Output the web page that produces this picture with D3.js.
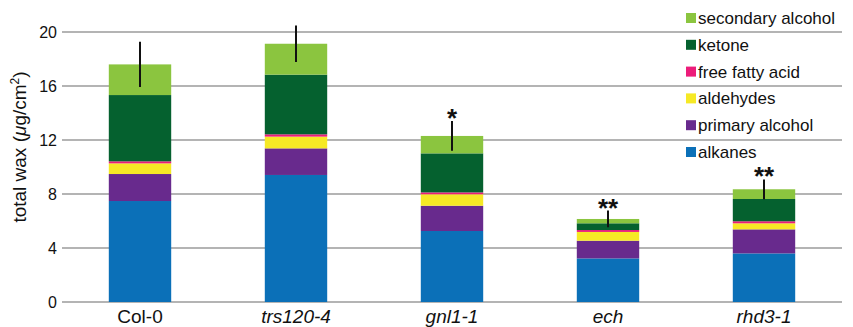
<!DOCTYPE html>
<html>
<head>
<meta charset="utf-8">
<script src="https://cdn.jsdelivr.net/npm/d3@7"></script>
<style>
  body { margin: 0; background: #fff; }
  text { font-family: Helvetica, Arial, "Liberation Sans", sans-serif; }
</style>
</head>
<body>
<svg id="chart" width="853" height="327"></svg>
<script>
const samples = ['Col-0', 'trs120-4', 'gnl1-1', 'ech', 'rhd3-1']
const italicSample = [false, true, true, true, true]
const waxClasses = ['alkanes', 'primary alcohol', 'aldehydes', 'free fatty acid', 'ketone', 'secondary alcohol']
const classColors = ['#0b70b8', '#682a8d', '#f6e925', '#ec1c7a', '#05612f', '#8bc53f']

// amount per wax class, one array per class, in sample order
const alkanes = [7.48, 9.41, 5.26, 3.23, 3.60]
const primaryAlcohol = [2.00, 1.97, 1.87, 1.31, 1.78]
const aldehydes = [0.79, 0.87, 0.85, 0.65, 0.45]
const freeFattyAcid = [0.15, 0.17, 0.14, 0.14, 0.15]
const ketone = [4.91, 4.42, 2.89, 0.50, 1.65]
const secondaryAlcohol = [2.27, 2.29, 1.29, 0.32, 0.72]
const errors = [1.68, 1.36, 1.10, 0.62, 0.73]
const stars = ['', '', '*', '**', '**']
const yTicks = [0, 4, 8, 12, 16, 20]

const svg = d3.select('#chart')
const margin = {left: 62, right: 11, top: 32, bottom: 25}
const width = 853, height = 327

const x = d3.scaleBand().domain(samples)
  .range([margin.left, width - margin.right])
  .paddingInner(0.6).paddingOuter(0.3)
const y = d3.scaleLinear().domain([0, 20]).range([height - margin.bottom, margin.top])

// gridlines
svg.append('g').attr('class', 'grid')
  .selectAll('line').data(yTicks).enter().append('line')
  .attr('x1', margin.left).attr('x2', width - margin.right)
  .attr('y1', d => y(d)).attr('y2', d => y(d))
  .attr('stroke', '#9b9b9b').attr('stroke-width', 1.6)

// y axis labels
const yAxis = svg.append('g').attr('transform', `translate(${margin.left},0)`)
  .call(d3.axisLeft(y).tickValues(yTicks).tickSize(0).tickPadding(5))
yAxis.select('.domain').remove()
yAxis.selectAll('text').attr('font-size', 16).attr('fill', '#111')
  .style('font-family', 'Helvetica, Arial, "Liberation Sans", sans-serif')

svg.append('text')
  .attr('transform', 'translate(26,147) rotate(-90)')
  .attr('text-anchor', 'middle').attr('font-size', 19).attr('fill', '#111')
  .html('total wax (<tspan font-style="italic">μ</tspan>g/cm<tspan font-size="12" dy="-7">2</tspan><tspan dy="7">)</tspan>')

// stacked data
const table = samples.map((s, i) => ({
  sample: s,
  'alkanes': alkanes[i],
  'primary alcohol': primaryAlcohol[i],
  'aldehydes': aldehydes[i],
  'free fatty acid': freeFattyAcid[i],
  'ketone': ketone[i],
  'secondary alcohol': secondaryAlcohol[i]
}))
const series = d3.stack().keys(waxClasses)(table)
const color = d3.scaleOrdinal().domain(waxClasses).range(classColors)

svg.append('g').attr('class', 'bars')
  .selectAll('g').data(series).enter().append('g')
  .attr('fill', d => color(d.key))
  .selectAll('rect').data(d => d).enter().append('rect')
  .attr('x', d => x(d.data.sample))
  .attr('width', x.bandwidth())
  .attr('y', d => y(d[1]))
  .attr('height', d => y(d[0]) - y(d[1]))

// error bars + significance stars
const totals = series[series.length - 1].map(d => d[1])
const errG = svg.append('g').attr('class', 'errors')
errG.selectAll('line').data(samples).enter().append('line')
  .attr('x1', d => x(d) + x.bandwidth() / 2).attr('x2', d => x(d) + x.bandwidth() / 2)
  .attr('y1', (d, i) => y(totals[i] - errors[i]))
  .attr('y2', (d, i) => y(totals[i] + errors[i]))
  .attr('stroke', '#111').attr('stroke-width', 2)
errG.selectAll('text').data(samples).enter().append('text')
  .attr('x', d => x(d) + x.bandwidth() / 2)
  .attr('y', (d, i) => y(totals[i] + errors[i]) + 6)
  .attr('text-anchor', 'middle').attr('font-size', 26).attr('font-weight', 'bold')
  .attr('fill', '#111')
  .text((d, i) => stars[i])

// x labels
svg.append('g').selectAll('text').data(samples).enter().append('text')
  .attr('x', d => x(d) + x.bandwidth() / 2)
  .attr('y', 323)
  .attr('text-anchor', 'middle').attr('font-size', 19).attr('fill', '#111')
  .attr('font-style', (d, i) => italicSample[i] ? 'italic' : 'normal')
  .text(d => d)

// legend, top entry = top of stack
const legendItems = waxClasses.slice().reverse()
const legend = svg.append('g').attr('transform', 'translate(686,18)')
const li = legend.selectAll('g').data(legendItems).enter().append('g')
  .attr('transform', (d, i) => `translate(0,${i * 26.8})`)
li.append('rect').attr('x', 0).attr('y', -5).attr('width', 10).attr('height', 10)
  .attr('fill', d => color(d))
li.append('text').attr('x', 12).attr('y', 6)
  .attr('font-size', 17).attr('fill', '#111')
  .text(d => d)
</script>
</body>
</html>
